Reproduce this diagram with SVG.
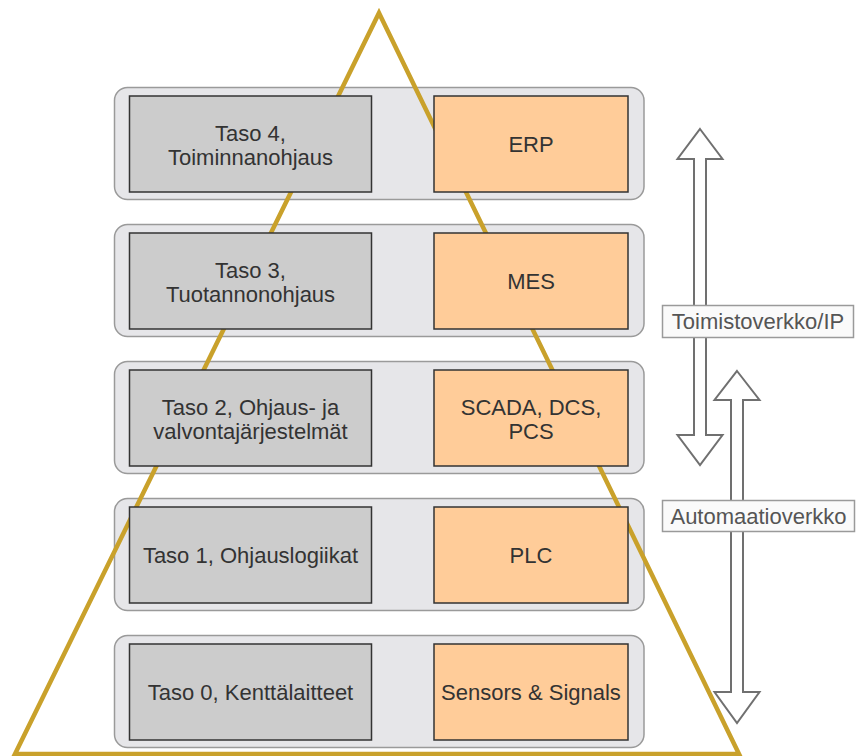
<svg xmlns="http://www.w3.org/2000/svg" width="856" height="756" viewBox="0 0 856 756">
<style>
.layer{fill:#e6e6e9;stroke:#9a9a9a;stroke-width:1.5}
.lvl{fill:#cccccc;stroke:#333333;stroke-width:1.5}
.sys{fill:#ffcc99;stroke:#333333;stroke-width:1.5}
.t{font-family:"Liberation Sans",Arial,sans-serif;font-size:22px;fill:#333333;text-anchor:middle}
.lab{fill:#fafafa;stroke:#9a9a9a;stroke-width:1.5}
.lt{font-family:"Liberation Sans",Arial,sans-serif;font-size:22px;fill:#555555;text-anchor:middle}
.arr{fill:#ffffff;stroke:#707070;stroke-width:2;stroke-linejoin:miter}
.tri{fill:none;stroke:#c9a12b;stroke-width:4.5;stroke-linejoin:miter}
</style>
<rect width="856" height="756" fill="#ffffff"/>
<g id="layers">
<rect class="layer" x="114.5" y="87.5" width="529.5" height="112" rx="13"/>
<rect class="layer" x="114.5" y="224.5" width="529.5" height="112" rx="13"/>
<rect class="layer" x="114.5" y="361.5" width="529.5" height="112" rx="13"/>
<rect class="layer" x="114.5" y="498.5" width="529.5" height="112" rx="13"/>
<rect class="layer" x="114.5" y="635.5" width="529.5" height="112" rx="13"/>
</g>
<g id="connectors">
<polygon class="arr" points="700,129 722.5,159 706,159 706,435 722.5,435 700,465 677.5,435 694,435 694,159 677.5,159"/>
<polygon class="arr" points="737,371 759.5,400 743,400 743,692 759.5,692 737,723 714.5,692 731,692 731,400 714.5,400"/>
</g>
<g id="label-toimistoverkko">
<rect class="lab" x="662.5" y="305.5" width="191" height="32"/>
<text class="lt" x="758" y="329">Toimistoverkko/IP</text>
</g>
<g id="label-automaatioverkko">
<rect class="lab" x="662.5" y="500.5" width="192" height="31"/>
<text class="lt" x="758.5" y="524">Automaatioverkko</text>
</g>
<g id="pyramid">
<polygon class="tri" points="379,13 739,754 15,754"/>
</g>
<g id="taso4">
<rect class="lvl" x="129.5" y="96" width="242" height="96"/>
<text class="t" x="250.5" y="141">Taso 4,</text>
<text class="t" x="250.5" y="165">Toiminnanohjaus</text>
</g>
<g id="erp">
<rect class="sys" x="434" y="96" width="194" height="96"/>
<text class="t" x="531" y="152">ERP</text>
</g>
<g id="taso3">
<rect class="lvl" x="129.5" y="233" width="242" height="96"/>
<text class="t" x="250.5" y="278">Taso 3,</text>
<text class="t" x="250.5" y="302">Tuotannonohjaus</text>
</g>
<g id="mes">
<rect class="sys" x="434" y="233" width="194" height="96"/>
<text class="t" x="531" y="289">MES</text>
</g>
<g id="taso2">
<rect class="lvl" x="129.5" y="370" width="242" height="96"/>
<text class="t" x="250.5" y="415">Taso 2, Ohjaus- ja</text>
<text class="t" x="250.5" y="439">valvontajärjestelmät</text>
</g>
<g id="scada">
<rect class="sys" x="434" y="370" width="194" height="96"/>
<text class="t" x="531" y="415">SCADA, DCS,</text>
<text class="t" x="531" y="439">PCS</text>
</g>
<g id="taso1">
<rect class="lvl" x="129.5" y="507" width="242" height="96"/>
<text class="t" x="250.5" y="563">Taso 1, Ohjauslogiikat</text>
</g>
<g id="plc">
<rect class="sys" x="434" y="507" width="194" height="96"/>
<text class="t" x="531" y="563">PLC</text>
</g>
<g id="taso0">
<rect class="lvl" x="129.5" y="644" width="242" height="96"/>
<text class="t" x="250.5" y="700">Taso 0, Kenttälaitteet</text>
</g>
<g id="sensors">
<rect class="sys" x="434" y="644" width="194" height="96"/>
<text class="t" x="531" y="700">Sensors &amp; Signals</text>
</g>
</svg>
